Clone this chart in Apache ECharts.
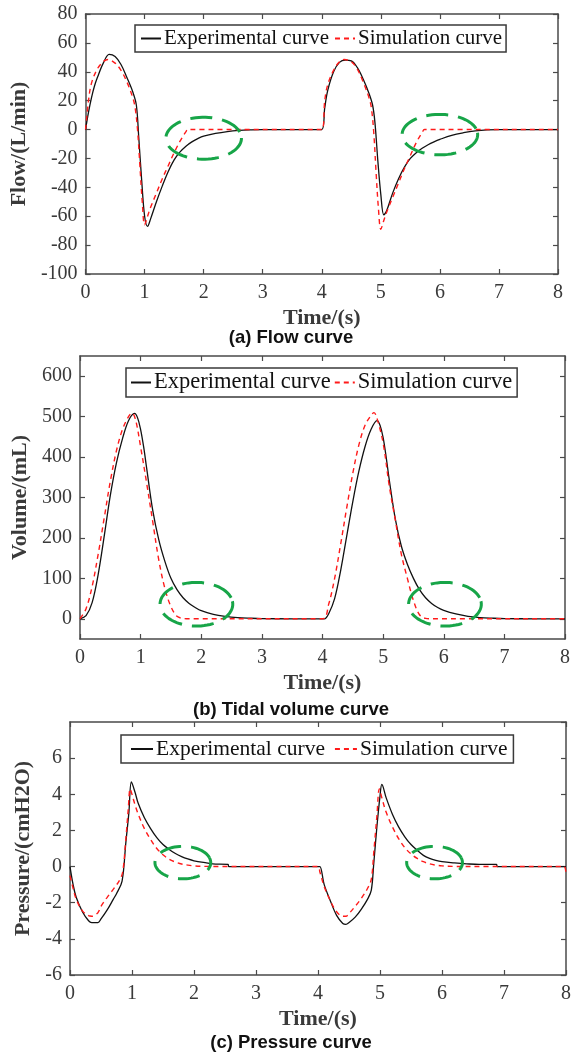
<!DOCTYPE html>
<html>
<head>
<meta charset="utf-8">
<script src="https://cdn.jsdelivr.net/npm/echarts@6.0.0/dist/echarts.min.js"></script>
<style>
html,body{margin:0;padding:0;background:#fff;}
#chart{width:578px;height:1054px;}
</style>
</head>
<body>
<div id="chart"></div>
<script>
// ---- Data (time in s, value) ----
const flowExp = [[0,0],[0.05,12],[0.1,22],[0.15,30],[0.2,36],[0.3,46],[0.4,52],[0.5,50.5],[0.6,45],[0.7,36],[0.8,26],[0.86,17],[0.9,-5],[0.95,-35],[1.0,-60],[1.05,-67],[1.1,-62],[1.2,-50],[1.3,-39],[1.4,-29],[1.5,-21],[1.6,-15.5],[1.7,-11.5],[1.8,-8.5],[1.9,-6.3],[2.0,-4.6],[2.2,-2.7],[2.4,-1.4],[2.6,-0.6],[2.8,-0.2],[3.0,0],[4.0,0],
  [4.05,15],[4.1,27],[4.2,40],[4.3,46.5],[4.4,48],[4.5,47.5],[4.6,43],[4.7,35],[4.8,25],[4.86,17],[4.9,5],[4.95,-22],[5.0,-45],[5.05,-59],[5.1,-56],[5.2,-44],[5.3,-34],[5.4,-26],[5.5,-20],[5.6,-16],[5.7,-13],[5.8,-10.5],[5.9,-8.5],[6.0,-6.8],[6.2,-4],[6.4,-2.2],[6.6,-0.9],[6.8,-0.2],[7.0,0],[8.0,0]];
const flowSim = [[0,0],[0.05,20],[0.1,32],[0.2,42],[0.3,47],[0.38,48.5],[0.5,46],[0.6,41],[0.7,33],[0.8,22],[0.84,15],[0.88,0],[0.92,-25],[0.96,-50],[1.0,-66],[1.05,-60],[1.1,-54],[1.2,-44],[1.3,-34],[1.4,-25],[1.5,-16],[1.6,-8],[1.7,-1.5],[1.73,0],[4.0,0],
  [4.05,20],[4.1,31],[4.2,41],[4.3,47],[4.38,48.5],[4.5,47],[4.6,42],[4.7,33],[4.8,22],[4.84,15],[4.88,-2],[4.92,-30],[4.96,-55],[5.0,-69],[5.05,-63],[5.1,-57],[5.2,-47],[5.3,-37],[5.4,-27],[5.5,-18],[5.6,-9],[5.7,-2],[5.74,0],[8.0,0]];
const volExp = [[0,0],[0.1,8],[0.2,40],[0.3,110],[0.4,205],[0.5,305],[0.6,385],[0.7,445],[0.8,490],[0.9,508],[0.95,497],[1.0,468],[1.05,425],[1.1,372],[1.2,268],[1.3,195],[1.4,142],[1.5,100],[1.6,72],[1.7,52],[1.8,38],[1.9,28],[2.0,20],[2.2,11],[2.4,6],[2.6,3],[2.8,1.5],[3.0,0.5],[3.5,0],[4.0,0],
  [4.03,0],[4.1,12],[4.2,50],[4.3,120],[4.4,205],[4.5,290],[4.6,365],[4.7,425],[4.8,468],[4.9,490],[4.95,478],[5.0,448],[5.05,400],[5.1,345],[5.2,248],[5.3,180],[5.4,135],[5.5,100],[5.6,72],[5.7,52],[5.8,38],[5.9,28],[6.0,21],[6.2,12],[6.4,6],[6.6,3],[6.8,1.5],[7.0,0.5],[7.5,0],[8.0,0]];
const volSim = [[0,0],[0.1,25],[0.2,80],[0.3,160],[0.4,250],[0.5,340],[0.6,415],[0.7,468],[0.8,500],[0.86,509],[0.92,490],[1.0,425],[1.1,335],[1.2,240],[1.3,145],[1.4,75],[1.5,30],[1.6,6],[1.7,1],[1.8,0],[4.0,0],
  [4.1,35],[4.2,100],[4.3,185],[4.4,275],[4.5,360],[4.6,430],[4.7,478],[4.8,503],[4.85,510],[4.9,495],[5.0,435],[5.1,330],[5.2,245],[5.3,160],[5.4,100],[5.5,45],[5.6,10],[5.7,1],[5.8,0],[8.0,0]];
const presExp = [[0,0],[0.05,-1.0],[0.1,-1.7],[0.2,-2.5],[0.3,-3.0],[0.35,-3.1],[0.45,-3.1],[0.5,-2.9],[0.6,-2.4],[0.7,-1.8],[0.75,-1.5],[0.84,-0.8],[0.9,1.3],[0.95,3.0],[0.99,4.68],[1.05,4.1],[1.1,3.5],[1.2,2.7],[1.3,2.1],[1.4,1.6],[1.5,1.22],[1.6,0.95],[1.7,0.72],[1.8,0.55],[1.9,0.42],[2.0,0.32],[2.2,0.2],[2.3,0.15],[2.55,0.12],[2.56,0],[4.0,0],
  [4.03,0],[4.1,-1.0],[4.2,-1.9],[4.3,-2.7],[4.4,-3.15],[4.45,-3.2],[4.5,-3.1],[4.6,-2.8],[4.7,-2.35],[4.8,-1.8],[4.86,-1.3],[4.9,0.2],[4.95,2.2],[5.0,3.9],[5.03,4.55],[5.1,3.8],[5.2,2.9],[5.3,2.2],[5.4,1.65],[5.5,1.22],[5.6,0.9],[5.7,0.62],[5.8,0.45],[5.9,0.34],[6.0,0.27],[6.2,0.2],[6.4,0.15],[6.6,0.12],[6.88,0.12],[6.89,0],[8.0,0]];
const presSim = [[0,-0.5],[0.05,-1.2],[0.1,-1.8],[0.2,-2.45],[0.3,-2.72],[0.35,-2.75],[0.45,-2.55],[0.5,-2.2],[0.6,-1.7],[0.7,-1.25],[0.8,-0.75],[0.85,-0.3],[0.9,1.5],[0.94,3.2],[0.97,4.3],[1.0,4.0],[1.05,3.4],[1.1,2.9],[1.2,2.1],[1.3,1.5],[1.4,1.0],[1.5,0.65],[1.6,0.4],[1.7,0.25],[1.8,0.14],[1.9,0.08],[2.0,0.04],[2.2,0.01],[2.4,0],[4.0,0],
  [4.03,-0.3],[4.1,-1.1],[4.2,-1.9],[4.3,-2.5],[4.4,-2.75],[4.45,-2.75],[4.5,-2.6],[4.6,-2.2],[4.7,-1.75],[4.8,-1.2],[4.86,-0.7],[4.9,0.8],[4.95,2.8],[4.99,4.3],[5.03,3.8],[5.1,3.0],[5.2,2.2],[5.3,1.55],[5.4,1.05],[5.5,0.7],[5.6,0.45],[5.7,0.27],[5.8,0.15],[5.9,0.08],[6.0,0.04],[6.2,0.01],[6.4,0],[7.97,0],[8.0,-0.5]];
// highlight ellipses: [centerT, centerV, radiusT, radiusV]
const flowMarks = [[2.0,-6,0.64,14.5],[6.0,-3.5,0.64,14]];
const volMarks  = [[1.92,36,0.6,54],[6.02,36,0.6,54]];
const presMarks = [[1.82,0.22,0.45,0.9],[5.88,0.22,0.45,0.9]];
const xTickMin = 0, xTickMax = 8, xTickStep = 1;
const volTicks = [0,100,200,300,400,500,600];
const seriesNames = ['Experimental curve','Simulation curve'];
const captions = ['(a) Flow curve','(b) Tidal volume curve','(c) Pressure curve'];
const yNames = ['Flow/(L/min)','Volume/(mL)','Pressure/(cmH2O)'];

// ---- Layout ----
const grids = [
  {left:84, top:14, width:474, height:260},
  {left:80, top:356, width:485, height:283},
  {left:70, top:722, width:496, height:253}
];
const serif = 'Liberation Serif';
const axisColor = '#4a4a4a';
const labelColor = '#3a3a3a';

const xAxes = [], yAxes = [];
grids.forEach((g, i) => {
  const base = {
    type:'value', gridIndex:i, min:xTickMin, max:xTickMax, interval:xTickStep,
    splitLine:{show:false},
    axisLine:{show:true, onZero:false, lineStyle:{color:axisColor, width:1.5}},
    axisTick:{show:true, inside:true, length:5, lineStyle:{color:axisColor, width:1.2}}
  };
  xAxes.push(Object.assign({}, base, {
    position:'bottom', name:'Time/(s)', nameLocation:'middle', nameGap:33,
    nameTextStyle:{fontFamily:serif, fontWeight:'bold', fontSize:22, color:'#3a3a3a'},
    axisLabel:{show:true, margin:9, fontFamily:serif, fontSize:20, color:labelColor}
  }));
  xAxes.push(Object.assign({}, base, {position:'top', axisLabel:{show:false}}));
});

const yCfg = [
  {min:-100, max:80, interval:20, nameGap:47},
  {min:-50, max:650, custom:volTicks, nameGap:46},
  {min:-6, max:8, interval:2, hideMax:true, nameGap:26}
];
yCfg.forEach((c, i) => {
  const base = {
    type:'value', gridIndex:i, min:c.min, max:c.max,
    splitLine:{show:false},
    axisLine:{show:true, onZero:false, lineStyle:{color:axisColor, width:1.5}},
    axisTick:{show:true, inside:true, length:5, lineStyle:{color:axisColor, width:1.2}}
  };
  if (c.interval) base.interval = c.interval;
  if (c.custom) base.axisTick.customValues = c.custom;
  const lab = {show:true, margin:8, fontFamily:serif, fontSize:20, color:labelColor};
  if (c.custom) lab.customValues = c.custom;
  if (c.hideMax) lab.showMaxLabel = false;
  yAxes.push(Object.assign({}, base, {
    position:'left', name:yNames[i], nameLocation:'middle', nameGap:c.nameGap, nameRotate:90,
    nameTextStyle:{fontFamily:serif, fontWeight:'bold', fontSize:22, color:'#3a3a3a'},
    axisLabel:lab
  }));
  yAxes.push(Object.assign({}, base, {position:'right', axisLabel:{show:false},
    axisTick:Object.assign({}, base.axisTick)}));
});

const legendCfg = [
  {left:135, top:25, itemWidth:20, itemGap:5, fontSize:21, padding:[3,4,3,5]},
  {left:126, top:368, itemWidth:20, itemGap:3, fontSize:22.5, padding:[3,5,3,4]},
  {left:121, top:735, itemWidth:22, itemGap:9, fontSize:21.5, padding:[3,6,3,9]}
];
const legends = legendCfg.map(l => ({
  data: seriesNames, left:l.left, top:l.top, orient:'horizontal',
  itemWidth:l.itemWidth, itemHeight:12, itemGap:l.itemGap, padding:l.padding,
  borderColor:'#3a3a3a', borderWidth:1.5, backgroundColor:'#fff', borderRadius:0,
  selectedMode:false,
  itemStyle:{opacity:0, borderWidth:0},
  textStyle:{fontFamily:serif, fontSize:l.fontSize, color:'#111', lineHeight:l.fontSize, padding:[0,0,0,-2]}
}));

function ellipseRender(params, api) {
  const cx = api.value(0), cy = api.value(1), rx = api.value(2), ry = api.value(3);
  const pts = [];
  for (let k = 0; k <= 72; k++) {
    const a = Math.PI * 2 * k / 72 + 0.3;
    pts.push(api.coord([cx + rx * Math.cos(a), cy + ry * Math.sin(a)]));
  }
  return {type:'polyline', shape:{points:pts},
    style:{fill:null, stroke:'#17a548', lineWidth:3, lineDash:[22,10]}};
}

const panelData = [[flowExp, flowSim, flowMarks],[volExp, volSim, volMarks],[presExp, presSim, presMarks]];
const series = [];
panelData.forEach((p, i) => {
  series.push({name:seriesNames[0], type:'line', xAxisIndex:2*i, yAxisIndex:2*i, data:p[0],
    symbol:'none', smooth:0.35, lineStyle:{color:'#111', width:1.3, type:'solid'},
    itemStyle:{color:'#111'}, animation:false, z:3});
  series.push({name:seriesNames[1], type:'line', xAxisIndex:2*i, yAxisIndex:2*i, data:p[1],
    symbol:'none', smooth:0.35, lineStyle:{color:'#ff1a1a', width:1.4, type:[5,4]},
    itemStyle:{color:'#ff1a1a'}, animation:false, z:4});
  series.push({name:'marks', type:'custom', xAxisIndex:2*i, yAxisIndex:2*i, data:p[2],
    renderItem:ellipseRender, animation:false, z:5, silent:true, clip:false});
});

const captionY = [338, 710, 1043];
const graphics = captions.map((t, i) => ({
  type:'text', x:291, y:captionY[i],
  style:{text:t, font:'bold 18.5px "Liberation Sans", Arial, sans-serif', fill:'#111', textAlign:'center', textVerticalAlign:'middle'}
}));

const chart = echarts.init(document.getElementById('chart'), null, {renderer:'canvas'});
chart.setOption({
  backgroundColor:'#fff',
  animation:false,
  grid:grids,
  xAxis:xAxes,
  yAxis:yAxes,
  legend:legends,
  graphic:graphics,
  series:series
});
</script>
</body>
</html>
